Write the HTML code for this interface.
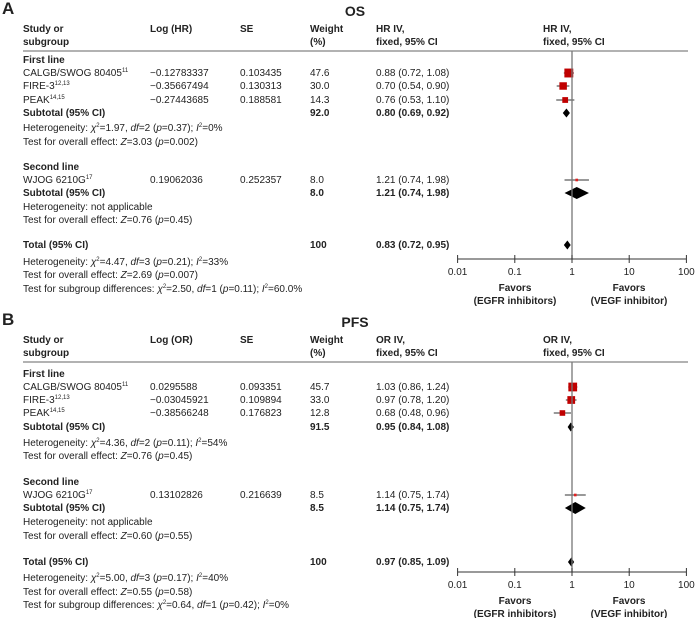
<!DOCTYPE html>
<html><head><meta charset="utf-8"><style>
body{margin:0;background:#fff}
svg{display:block;font-family:"Liberation Sans",Arial,sans-serif;font-size:10px;fill:#222}
.b{font-weight:bold}
</style></head><body>
<svg id="s" width="696" height="618" viewBox="0 0 696 618"></svg>
<script>
const NS="http://www.w3.org/2000/svg";
const svg=document.getElementById('s');
// Panel A data (OS)
const aStudies=["CALGB/SWOG 80405","FIRE-3","PEAK"];
const aHR=[0.88,0.70,0.76];const aLo=[0.72,0.54,0.53];const aHi=[1.08,0.90,1.10];
const aW=[47.6,30.0,14.3];
const aSub1=[0.80,0.69,0.92];const aWj=[1.21,0.74,1.98];const aWjW=[8.0];const aSub2=[1.21,0.74,1.98];const aTot=[0.83,0.72,0.95];
// Panel B data (PFS)
const bOR=[1.03,0.97,0.68];const bLo=[0.86,0.78,0.48];const bHi=[1.24,1.20,0.96];
const bW=[45.7,33.0,12.8];
const bSub1=[0.95,0.84,1.08];const bWj=[1.14,0.75,1.74];const bWjW=[8.5];const bSub2=[1.14,0.75,1.74];const bTot=[0.97,0.85,1.09];
const ticks=[0.01,0.1,1,10,100];const tickLabels=["0.01","0.1","1","10","100"];

function x(v){return 572+57.2*Math.log10(v);}
function el(t,a,p){const e=document.createElementNS(NS,t);for(const k in a)e.setAttribute(k,a[k]);(p||svg).appendChild(e);return e;}
function txt(s,X,Y,cls,name,anchor){const e=el('text',{x:X,y:Y});if(cls)e.setAttribute('class',cls);if(anchor)e.setAttribute('text-anchor',anchor);e.innerHTML=s;


return e;}

function panel(o){
  const d=o.dy;
  txt(o.letter,2,14+d,'b','panel-label').setAttribute('font-size','17');
  txt(o.title,355,16+d,'b','panel-title','middle').setAttribute('font-size','14');
  txt('Study or',23,32+d,'b','header-study');txt('subgroup',23,45+d,'b','header-study');
  txt(o.logh,150,32+d,'b','header-log');
  txt('SE',240,32+d,'b','header-se');
  txt('Weight',310,32+d,'b','header-weight');txt('(%)',310,45+d,'b','header-weight');
  txt(o.mh+' IV,',376,32+d,'b','header-effect');txt('fixed, 95% CI',376,45+d,'b','header-effect');
  txt(o.mh+' IV,',543,32+d,'b','header-plot');txt('fixed, 95% CI',543,45+d,'b','header-plot');
  const hl=el('line',{x1:23,x2:688,y1:51+d,y2:51+d,stroke:'#999','stroke-width':1.5});
  
  
  const r=o.rows;
  txt('First line',23,r[0]+3+d,'b','subgroup-first-line');
  const sups=['11','12,13','14,15'];
  for(let i=0;i<3;i++){
    const Y=r[i+1]+d;
    txt(aStudies[i]+'<tspan font-size="6" dy="-4">'+sups[i]+'</tspan>',23,Y+3,'', 'study-name');
    txt(o.logs[i],150,Y+3,'','log-value');txt(o.ses[i],240,Y+3,'','se-value');
    txt(o.w[i].toFixed(1),310,Y+3,'','weight-value');
    txt(o.e[i].toFixed(2)+' ('+o.lo[i].toFixed(2)+', '+o.hi[i].toFixed(2)+')',376,Y+3,'','effect-ci');
    const l=el('line',{x1:x(o.lo[i]),x2:x(o.hi[i]),y1:Y,y2:Y,stroke:'#333','stroke-width':1});
    
    
    const sz=2+Math.sqrt(o.w[i])*1.0;
    const q=el('rect',{x:x(o.e[i])-sz/2,y:Y-sz/2,width:sz,height:sz,fill:'#c00000'});
    
    
  }
  function diamond(v,Y,name,wid){
    el('polygon',{points:`${x(v[1])},${Y} ${x(v[0])},${Y-wid} ${x(v[2])},${Y} ${x(v[0])},${Y+wid}`,fill:'#000'});
  }
  let Y=r[4]+d;
  txt('Subtotal (95% CI)',23,Y+3,'b','subtotal-label');txt(o.sub1w,310,Y+3,'b','subtotal-weight');
  txt(o.s1[0].toFixed(2)+' ('+o.s1[1].toFixed(2)+', '+o.s1[2].toFixed(2)+')',376,Y+3,'b','subtotal-ci');
  diamond(o.s1,Y,'subtotal-diamond',4.5);
  txt(o.het1,23,r[5]+3+d,'','heterogeneity');txt(o.test1,23,r[6]+3+d,'','overall-effect');
  txt('Second line',23,r[7]+3+d,'b','subgroup-second-line');
  Y=r[8]+d;
  txt('WJOG 6210G<tspan font-size="6" dy="-4">17</tspan>',23,Y+3,'','study-name');
  txt(o.wjlog,150,Y+3,'','log-value');txt(o.wjse,240,Y+3,'','se-value');txt(o.wjw[0].toFixed(1),310,Y+3,'','weight-value');
  txt(o.wj[0].toFixed(2)+' ('+o.wj[1].toFixed(2)+', '+o.wj[2].toFixed(2)+')',376,Y+3,'','effect-ci');
  el('line',{x1:x(o.wj[1]),x2:x(o.wj[2]),y1:Y,y2:Y,stroke:'#333','stroke-width':1});
  const s2=1.5+Math.sqrt(o.wjw[0])*0.4;
  el('rect',{x:x(o.wj[0])-s2/2,y:Y-s2/2,width:s2,height:s2,fill:'#e02020'});
  Y=r[9]+d;
  txt('Subtotal (95% CI)',23,Y+3,'b','subtotal-label');txt(o.wjw[0].toFixed(1),310,Y+3,'b','subtotal-weight');
  txt(o.s2[0].toFixed(2)+' ('+o.s2[1].toFixed(2)+', '+o.s2[2].toFixed(2)+')',376,Y+3,'b','subtotal-ci');
  diamond(o.s2,Y,'subtotal-diamond',6);
  txt('Heterogeneity: not applicable',23,r[10]+3+d,'','heterogeneity');txt(o.test2,23,r[11]+3+d,'','overall-effect');
  Y=r[12]+d;
  txt('Total (95% CI)',23,Y+3,'b','total-label');txt('100',310,Y+3,'b','total-weight');
  txt(o.t[0].toFixed(2)+' ('+o.t[1].toFixed(2)+', '+o.t[2].toFixed(2)+')',376,Y+3,'b','total-ci');
  diamond(o.t,Y,'total-diamond',4.5);
  txt(o.het3,23,r[13]+3+d,'','heterogeneity');txt(o.test3,23,r[14]+3+d,'','overall-effect');txt(o.test4,23,r[15]+3+d,'','subgroup-differences');
  // vertical null line and axis
  const ay=o.axisY+d;
  el('line',{x1:572,x2:572,y1:51+d,y2:ay,stroke:'#777','stroke-width':1.3});
  el('line',{x1:x(0.01),x2:x(100),y1:ay,y2:ay,stroke:'#333','stroke-width':1});
  ticks.forEach((t,i)=>{
    el('line',{x1:x(t),x2:x(t),y1:ay-4,y2:ay+4,stroke:'#333','stroke-width':1});
    txt(tickLabels[i],x(t),ay+16,'','x-tick-label','middle');
  });
  txt('Favors',515,ay+32,'b','favors-left','middle');txt('(EGFR inhibitors)',515,ay+45,'b','favors-left','middle');
  txt('Favors',629,ay+32,'b','favors-right','middle');txt('(VEGF inhibitor)',629,ay+45,'b','favors-right','middle');
}
const rowsA=[60,73,86,100,113,128,142,167,180,193,207,220,245,262,275,289];
const rowsB=[63,76,89,102,116,132,145,171,184,197,211,225,251,267,281,294];
panel({letter:'A',title:'OS',dy:0,logh:'Log (HR)',mh:'HR',rows:rowsA,
 logs:['−0.12783337','−0.35667494','−0.27443685'],ses:['0.103435','0.130313','0.188581'],
 w:aW,e:aHR,lo:aLo,hi:aHi,sub1w:'92.0',s1:aSub1,wj:aWj,wjw:aWjW,s2:aSub2,t:aTot,wjlog:'0.19062036',wjse:'0.252357',
 het1:'Heterogeneity: <tspan font-style="italic">χ</tspan><tspan font-size="6" dy="-4">2</tspan><tspan dy="4">=1.97, </tspan><tspan font-style="italic">df</tspan>=2 (<tspan font-style="italic">p</tspan>=0.37); <tspan font-style="italic">I</tspan><tspan font-size="6" dy="-4">2</tspan><tspan dy="4">=0%</tspan>',
 test1:'Test for overall effect: <tspan font-style="italic">Z</tspan>=3.03 (<tspan font-style="italic">p</tspan>=0.002)',
 test2:'Test for overall effect: <tspan font-style="italic">Z</tspan>=0.76 (<tspan font-style="italic">p</tspan>=0.45)',
 het3:'Heterogeneity: <tspan font-style="italic">χ</tspan><tspan font-size="6" dy="-4">2</tspan><tspan dy="4">=4.47, </tspan><tspan font-style="italic">df</tspan>=3 (<tspan font-style="italic">p</tspan>=0.21); <tspan font-style="italic">I</tspan><tspan font-size="6" dy="-4">2</tspan><tspan dy="4">=33%</tspan>',
 test3:'Test for overall effect: <tspan font-style="italic">Z</tspan>=2.69 (<tspan font-style="italic">p</tspan>=0.007)',
 test4:'Test for subgroup differences: <tspan font-style="italic">χ</tspan><tspan font-size="6" dy="-4">2</tspan><tspan dy="4">=2.50, </tspan><tspan font-style="italic">df</tspan>=1 (<tspan font-style="italic">p</tspan>=0.11); <tspan font-style="italic">I</tspan><tspan font-size="6" dy="-4">2</tspan><tspan dy="4">=60.0%</tspan>',
 axisY:259});
panel({letter:'B',title:'PFS',dy:311,logh:'Log (OR)',mh:'OR',rows:rowsB,
 logs:['0.0295588','−0.03045921','−0.38566248'],ses:['0.093351','0.109894','0.176823'],
 w:bW,e:bOR,lo:bLo,hi:bHi,sub1w:'91.5',s1:bSub1,wj:bWj,wjw:bWjW,s2:bSub2,t:bTot,wjlog:'0.13102826',wjse:'0.216639',
 het1:'Heterogeneity: <tspan font-style="italic">χ</tspan><tspan font-size="6" dy="-4">2</tspan><tspan dy="4">=4.36, </tspan><tspan font-style="italic">df</tspan>=2 (<tspan font-style="italic">p</tspan>=0.11); <tspan font-style="italic">I</tspan><tspan font-size="6" dy="-4">2</tspan><tspan dy="4">=54%</tspan>',
 test1:'Test for overall effect: <tspan font-style="italic">Z</tspan>=0.76 (<tspan font-style="italic">p</tspan>=0.45)',
 test2:'Test for overall effect: <tspan font-style="italic">Z</tspan>=0.60 (<tspan font-style="italic">p</tspan>=0.55)',
 het3:'Heterogeneity: <tspan font-style="italic">χ</tspan><tspan font-size="6" dy="-4">2</tspan><tspan dy="4">=5.00, </tspan><tspan font-style="italic">df</tspan>=3 (<tspan font-style="italic">p</tspan>=0.17); <tspan font-style="italic">I</tspan><tspan font-size="6" dy="-4">2</tspan><tspan dy="4">=40%</tspan>',
 test3:'Test for overall effect: <tspan font-style="italic">Z</tspan>=0.55 (<tspan font-style="italic">p</tspan>=0.58)',
 test4:'Test for subgroup differences: <tspan font-style="italic">χ</tspan><tspan font-size="6" dy="-4">2</tspan><tspan dy="4">=0.64, </tspan><tspan font-style="italic">df</tspan>=1 (<tspan font-style="italic">p</tspan>=0.42); <tspan font-style="italic">I</tspan><tspan font-size="6" dy="-4">2</tspan><tspan dy="4">=0%</tspan>',
 axisY:261});
</script>
</body></html>
